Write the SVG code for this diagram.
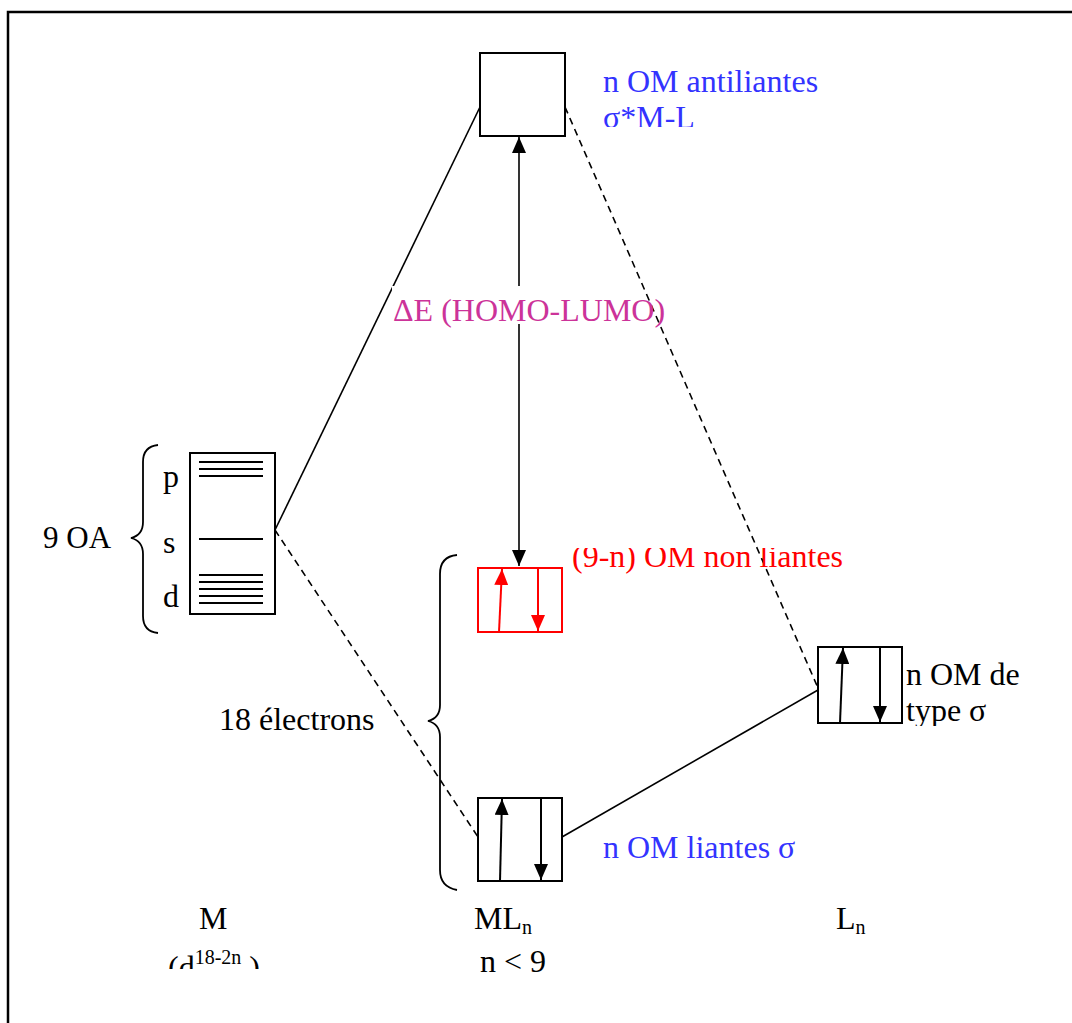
<svg xmlns="http://www.w3.org/2000/svg" width="1072" height="1023" viewBox="0 0 1072 1023">
<style>
text{font-family:"Liberation Serif","Times New Roman",serif;font-size:32px;fill:#000}
.blue{fill:#3333ff}
.mag{fill:#cc3399}
.red{fill:#ff0000}
.box{fill:#fff;stroke:#000;stroke-width:2}
.rbox{fill:#fff;stroke:#ff0000;stroke-width:2}
.ln{stroke:#000;stroke-width:1.6;fill:none}
.dash{stroke:#000;stroke-width:1.6;fill:none;stroke-dasharray:7,5}
.arr{stroke:#000;stroke-width:2;fill:none;marker-end:url(#ah)}
.rarr{stroke:#ff0000;stroke-width:2;fill:none;marker-end:url(#rah)}
.lvl{stroke:#000;stroke-width:2}
.brace{stroke:#000;stroke-width:1.8;fill:none}
</style>
<defs>
<marker id="ah" markerUnits="userSpaceOnUse" markerWidth="17" markerHeight="14" refX="16" refY="7" orient="auto"><path d="M0,0 L16,7 L0,14 z" fill="#000"/></marker>
<marker id="ahs" markerUnits="userSpaceOnUse" markerWidth="17" markerHeight="14" refX="0" refY="7" orient="auto"><path d="M16,0 L0,7 L16,14 z" fill="#000"/></marker>
<marker id="rah" markerUnits="userSpaceOnUse" markerWidth="17" markerHeight="14" refX="16" refY="7" orient="auto"><path d="M0,0 L16,7 L0,14 z" fill="#ff0000"/></marker>
<clipPath id="c1"><rect x="590" y="60" width="260" height="67"/></clipPath>
<clipPath id="c2"><rect x="565" y="548" width="300" height="40"/></clipPath>
<clipPath id="c3"><rect x="900" y="660" width="160" height="66"/></clipPath>
<clipPath id="c4"><rect x="150" y="900" width="130" height="69"/></clipPath>
</defs>
<rect x="0" y="0" width="1072" height="1023" fill="#fff"/>
<path d="M8,1023 V12 H1072" stroke="#000" stroke-width="2.5" fill="none"/>

<g id="connectors">
<line class="ln" x1="275" y1="530" x2="480" y2="107"/>
<line class="dash" x1="275" y1="530" x2="478" y2="837"/>
<line class="dash" x1="565" y1="107" x2="818" y2="688"/>
<line class="ln" x1="562" y1="837" x2="818" y2="690"/>
<line x1="519" y1="137" x2="519" y2="566" stroke="#000" stroke-width="1.6" marker-start="url(#ahs)" marker-end="url(#ah)"/>
</g>

<g id="gap-label">
<rect x="392" y="286" width="246" height="38" fill="#fff"/>
<text class="mag" x="393" y="321">ΔE (HOMO-LUMO)</text>
</g>

<g id="antibonding">
<rect class="box" x="480" y="53" width="85" height="83"/>
<g clip-path="url(#c1)">
<text class="blue" x="603" y="92">n OM antiliantes</text>
<text class="blue" x="603" y="128">σ*M-L</text>
</g>
</g>

<g id="metal">
<rect class="box" x="190" y="453" width="85" height="161"/>
<line class="lvl" x1="199" y1="462" x2="263" y2="462"/>
<line class="lvl" x1="199" y1="469" x2="263" y2="469"/>
<line class="lvl" x1="199" y1="476" x2="263" y2="476"/>
<line class="lvl" x1="199" y1="539" x2="263" y2="539"/>
<line class="lvl" x1="199" y1="575" x2="263" y2="575"/>
<line class="lvl" x1="199" y1="582" x2="263" y2="582"/>
<line class="lvl" x1="199" y1="589" x2="263" y2="589"/>
<line class="lvl" x1="199" y1="596" x2="263" y2="596"/>
<line class="lvl" x1="199" y1="603" x2="263" y2="603"/>
<text x="163" y="487">p</text>
<text x="163" y="553">s</text>
<text x="163" y="607">d</text>
<path class="brace" d="M158,445 C148,446 143,451 143,462 V522 C143,531 139,536 131,538 C139,540 143,545 143,554 V616 C143,627 148,632 158,633"/>
<text x="43" y="548" style="font-size:31px">9 OA</text>
</g>

<g id="nonbonding">
<rect class="rbox" x="478" y="568" width="84" height="64"/>
<line class="rarr" x1="499" y1="632" x2="502" y2="569"/>
<line class="rarr" x1="538" y1="568" x2="538" y2="631"/>
<g clip-path="url(#c2)">
<text class="red" x="572" y="567">(9-n) OM non liantes</text>
</g>
</g>

<g id="ligands">
<rect class="box" x="818" y="647" width="84" height="76"/>
<line class="arr" x1="840" y1="723" x2="843" y2="648"/>
<line class="arr" x1="880" y1="647" x2="880" y2="722"/>
<g clip-path="url(#c3)">
<text x="906" y="685">n OM de</text>
<text x="906" y="721">type σ</text>
</g>
</g>

<g id="bonding">
<rect class="box" x="478" y="798" width="84" height="83"/>
<line class="arr" x1="500" y1="881" x2="502" y2="799"/>
<line class="arr" x1="541" y1="798" x2="541" y2="880"/>
<text class="blue" x="603" y="858">n OM liantes σ</text>
</g>

<g id="electrons">
<path class="brace" d="M457,555 C446,556 440,562 440,574 V705 C440,714 436,719 428,721 C436,723 440,728 440,737 V870 C440,882 446,888 457,890"/>
<text x="219" y="730">18 électrons</text>
</g>

<g id="labels">
<text x="199" y="929">M</text>
<g clip-path="url(#c4)">
<text x="168" y="978">(d<tspan font-size="20" dy="-14">18-2n</tspan><tspan dy="14"> )</tspan></text>
</g>
<text x="474" y="929">ML<tspan font-size="20" dy="5">n</tspan></text>
<text x="480" y="972">n &lt; 9</text>
<text x="836" y="929">L<tspan font-size="20" dy="5">n</tspan></text>
</g>
</svg>
